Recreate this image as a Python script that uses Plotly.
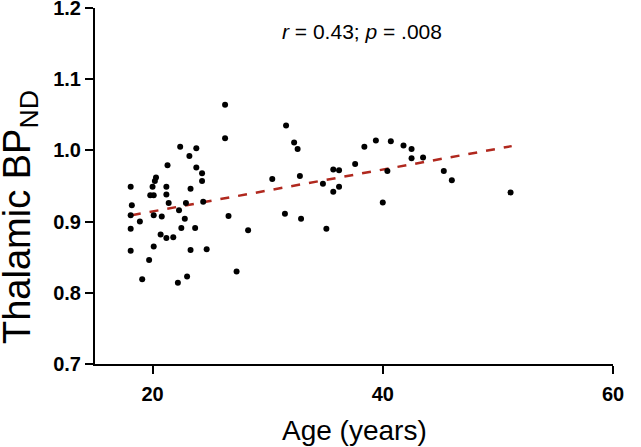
import plotly.graph_objects as go

age = [26.3, 26.3, 22.4, 23.8, 23.2, 21.3, 23.8, 24.3, 24.3, 20.3,
       20.2, 20.0, 21.2, 18.1, 23.3, 19.8, 20.1, 21.2, 21.4, 18.2,
       22.9, 24.4, 22.3, 18.1, 18.9, 20.1, 20.8, 26.6, 22.8, 18.1,
       22.5, 23.7, 28.3, 20.7, 21.2, 21.8, 20.1, 18.1, 23.3, 24.7,
       19.7, 27.3, 19.1, 23.0, 22.2,
       31.6, 32.3, 32.6, 30.4, 32.8, 34.8, 35.7, 36.2, 37.6, 38.4,
       39.4, 40.7, 35.7, 36.2, 40.4, 40.0, 31.5, 32.9, 35.1, 41.8,
       42.5, 42.5, 43.5, 45.3, 46.0, 51.1]
bp_nd = [1.064, 1.017, 1.005, 1.003, 0.992, 0.979, 0.976, 0.968, 0.957, 0.962,
         0.957, 0.949, 0.949, 0.949, 0.946, 0.937, 0.937, 0.938, 0.926, 0.923,
         0.926, 0.928, 0.916, 0.909, 0.900, 0.909, 0.907, 0.908, 0.904, 0.890,
         0.891, 0.891, 0.888, 0.882, 0.877, 0.878, 0.865, 0.859, 0.860, 0.861,
         0.846, 0.830, 0.819, 0.823, 0.814,
         1.035, 1.011, 1.002, 0.960, 0.964, 0.953, 0.973, 0.972, 0.981, 1.005,
         1.014, 1.013, 0.942, 0.949, 0.971, 0.927, 0.911, 0.904, 0.890, 1.007,
         1.002, 0.989, 0.990, 0.971, 0.958, 0.941]

fit_age = [18.2, 51.2]
fit_bp = [0.909, 1.006]

x_ticks = [20, 40, 60]
y_ticks = [0.7, 0.8, 0.9, 1.0, 1.1, 1.2]
y_tick_labels = ["0.7", "0.8", "0.9", "1.0", "1.1", "1.2"]

fig = go.Figure()
fig.add_trace(go.Scatter(
    x=fit_age, y=fit_bp, mode="lines",
    line=dict(color="#b0281e", width=2.5, dash="dash"),
    showlegend=False, hoverinfo="skip"))
fig.add_trace(go.Scatter(
    x=age, y=bp_nd, mode="markers",
    marker=dict(color="black", size=6),
    showlegend=False))

tickfont = dict(family="Liberation Sans", size=20, color="black", weight="bold")

fig.update_layout(
    width=641, height=447,
    margin=dict(l=95, r=28, t=8, b=83),
    paper_bgcolor="white", plot_bgcolor="white",
    xaxis=dict(range=[15, 60], tickvals=x_ticks, ticks="outside", ticklen=8,
               tickwidth=2, tickcolor="black", showline=True, linewidth=2,
               linecolor="black", showgrid=False, zeroline=False,
               tickfont=tickfont, ticklabelstandoff=3, ticklabeloverflow="allow",
               automargin=False),
    yaxis=dict(range=[0.7, 1.2], tickvals=y_ticks, ticktext=y_tick_labels,
               ticks="outside", ticklen=8, tickwidth=2, tickcolor="black",
               showline=True, linewidth=2, linecolor="black", showgrid=False,
               zeroline=False, tickfont=tickfont, ticklabeloverflow="allow",
               automargin=False),
    annotations=[
        dict(text="<i>r</i> = 0.43; <i>p</i> = .008", xref="paper", yref="paper",
             x=0.516, y=0.933, xanchor="center", yanchor="middle", showarrow=False,
             font=dict(family="Liberation Sans", size=21, color="black")),
        dict(text="Thalamic BP<sub>ND</sub>", xref="paper", yref="paper",
             x=0, y=0.413, xshift=-75, xanchor="center", yanchor="middle",
             textangle=-90, showarrow=False,
             font=dict(family="Liberation Sans", size=38, color="black")),
        dict(text="Age (years)", xref="paper", yref="paper",
             x=0.5, y=-0.187, xanchor="center", yanchor="middle", showarrow=False,
             font=dict(family="Liberation Sans", size=28, color="black")),
    ],
)

fig.write_html("out.html", config={"displayModeBar": False},
               post_script="document.body.style.margin='0px';")
